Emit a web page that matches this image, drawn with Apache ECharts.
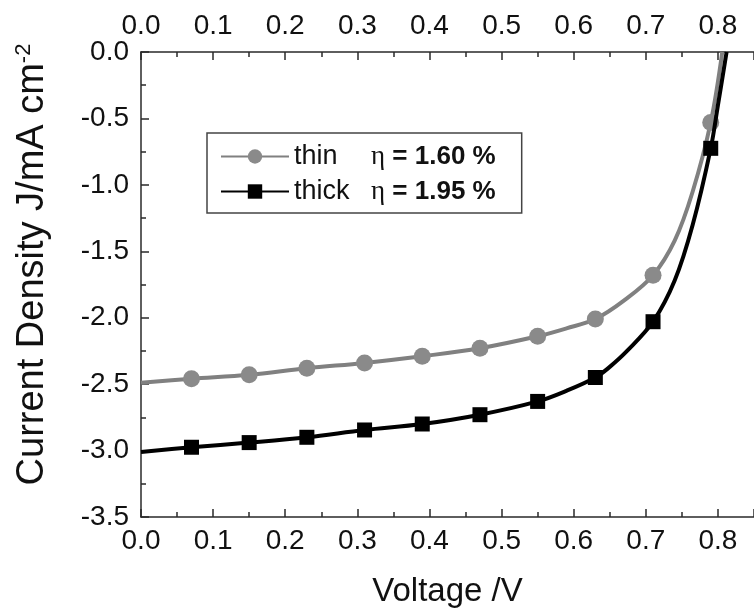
<!DOCTYPE html>
<html>
<head>
<meta charset="utf-8">
<script src="https://cdn.jsdelivr.net/npm/echarts@6/dist/echarts.min.js"></script>
<style>html,body{margin:0;padding:0;background:#fff;}#c{width:754px;height:613px;}</style>
</head>
<body>
<div id="c"></div>
<script>
// Marker positions (V) shared by both curves
const markerV = [0.07, 0.15, 0.23, 0.31, 0.39, 0.47, 0.55, 0.63, 0.71, 0.79];
const thinMarkerJ = [-2.46, -2.43, -2.38, -2.34, -2.29, -2.23, -2.14, -2.01, -1.68, -0.53];
const thickMarkerJ = [-2.975, -2.94, -2.90, -2.845, -2.80, -2.73, -2.63, -2.45, -2.03, -0.725];
// Extra curve points read between markers
const thinCurveV = [0, 0.59, 0.67, 0.74, 0.765, 0.806];
const thinCurveJ = [-2.49, -2.08, -1.87, -1.42, -1.05, 0];
const thickCurveV = [0, 0.59, 0.65, 0.674, 0.74, 0.765, 0.80, 0.812];
const thickCurveJ = [-3.01, -2.55, -2.37, -2.25, -1.72, -1.30, -0.40, 0];
const xTicks = [0, 0.1, 0.2, 0.3, 0.4, 0.5, 0.6, 0.7, 0.8];
const yTicks = [0, -0.5, -1.0, -1.5, -2.0, -2.5, -3.0, -3.5];
const seriesNames = ['thin', 'thick'];
const effLabels = ['1.60 %', '1.95 %'];

function buildData(mV, mJ, cV, cJ) {
  const pts = [];
  mV.forEach((v, i) => pts.push({ value: [v, mJ[i]] }));
  cV.forEach((v, i) => pts.push({ value: [v, cJ[i]], symbol: 'none' }));
  pts.sort((a, b) => a.value[0] - b.value[0]);
  return pts;
}

const FONT = 'Liberation Sans, Arial, sans-serif';
const AX = '#2a2a2a';
function xAxisBase(pos, margin) {
  return {
    type: 'value', position: pos,
    min: 0, max: 0.85, interval: 0.1,
    axisLine: { show: true, onZero: false, lineStyle: { color: AX, width: 1.5 } },
    axisTick: { show: true, inside: true, length: 8, lineStyle: { color: AX, width: 1.5 } },
    minorTick: { show: true, splitNumber: 2, length: 5, lineStyle: { color: AX, width: 1.5 } },
    splitLine: { show: false },
    axisLabel: {
      fontSize: 28, fontFamily: FONT, color: '#111', margin: margin,
      showMaxLabel: false,
      formatter: v => xTicks.some(t => Math.abs(t - v) < 1e-6) ? v.toFixed(1) : ''
    }
  };
}

const chart = echarts.init(document.getElementById('c'));
chart.setOption({
  animation: false,
  backgroundColor: '#fff',
  grid: { left: 141, top: 52, bottom: 95, right: -3 },
  legend: {
    orient: 'vertical',
    left: 207, top: 133,
    borderColor: '#444', borderWidth: 1.5,
    padding: [10, 26, 8, 13],
    itemGap: 8,
    itemWidth: 68, itemHeight: 18,
    data: seriesNames,
    textStyle: {
      fontSize: 27, fontFamily: FONT, color: '#111',
      rich: {
        n: { fontSize: 27, fontFamily: FONT, color: '#111', width: 77, lineHeight: 28 },
        e: { fontSize: 27, fontFamily: 'Liberation Serif, serif', color: '#111', lineHeight: 28 },
        b: { fontSize: 26, fontFamily: FONT, color: '#111', fontWeight: 'bold', lineHeight: 28 }
      }
    },
    formatter: name => {
      const i = seriesNames.indexOf(name);
      return '{n|' + name + '}{e|η}{b| = ' + effLabels[i] + '}';
    }
  },
  xAxis: [
    Object.assign(xAxisBase('bottom', 10), {
      name: 'Voltage /V', nameLocation: 'middle', nameGap: 58,
      nameTextStyle: { fontSize: 33, fontFamily: FONT, color: '#111' }
    }),
    xAxisBase('top', 12)
  ],
  yAxis: {
    type: 'value', min: -3.5, max: 0, interval: 0.5,
    axisLine: { show: true, onZero: false, lineStyle: { color: AX, width: 1.5 } },
    axisTick: { show: true, inside: true, length: 8, lineStyle: { color: AX, width: 1.5 } },
    minorTick: { show: true, splitNumber: 2, length: 5, lineStyle: { color: AX, width: 1.5 } },
    splitLine: { show: false },
    axisLabel: { fontSize: 28, fontFamily: FONT, color: '#111', margin: 12,
      formatter: v => yTicks.some(t => Math.abs(t - v) < 1e-6) ? v.toFixed(1) : '' },
    name: 'Current Density J/mA cm{sup|-2}',
    nameLocation: 'middle', nameGap: 88,
    nameTextStyle: {
      fontSize: 38, fontFamily: FONT, color: '#111',
      padding: [0, 0, 0, 40],
      rich: { sup: { fontSize: 22, fontFamily: FONT, color: '#111', verticalAlign: 'top', padding: [0, 0, 18, 0] } }
    }
  },
  series: [
    {
      name: 'thin', type: 'line', xAxisIndex: 0,
      data: buildData(markerV, thinMarkerJ, thinCurveV, thinCurveJ),
      smooth: 0.35,
      symbol: 'circle', symbolSize: 17,
      itemStyle: { color: '#8a8a8a' },
      lineStyle: { color: '#808080', width: 4 },
      z: 2
    },
    {
      name: 'thick', type: 'line', xAxisIndex: 0,
      data: buildData(markerV, thickMarkerJ, thickCurveV, thickCurveJ),
      smooth: 0.35,
      symbol: 'rect', symbolSize: 15,
      itemStyle: { color: '#000000' },
      lineStyle: { color: '#000000', width: 4 },
      z: 3
    }
  ]
});
</script>
</body>
</html>
